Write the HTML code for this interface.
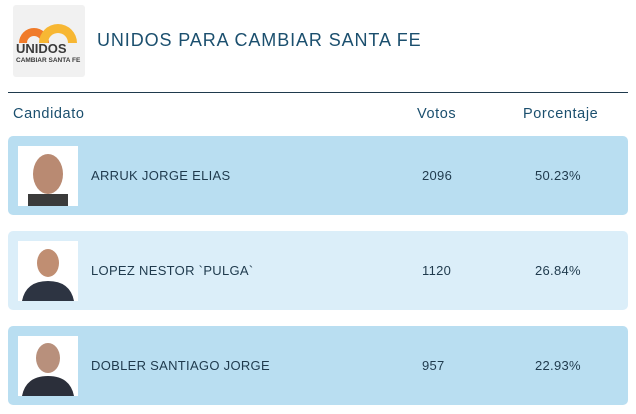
<!DOCTYPE html>
<html><head><style>
body{margin:0;width:636px;height:414px;background:#fff;font-family:"Liberation Sans",sans-serif;position:relative;overflow:hidden}
.a{position:absolute}
.row{position:absolute;left:8px;width:620px;height:79px;border-radius:5px}
.ph{position:absolute;left:10px;top:10px;width:60px;height:60px;background:#fff;overflow:hidden}
.nm{position:absolute;left:83px;top:32px;font-size:13px;color:#1f3a4d;letter-spacing:0.3px}
.v{position:absolute;left:414px;top:32px;font-size:13px;color:#1f3a4d;letter-spacing:0.3px}
.p{position:absolute;left:527px;top:32px;font-size:13px;color:#1f3a4d;letter-spacing:0.3px}
.hd{font-size:14.5px;color:#1b4f6e;top:106px;letter-spacing:0.6px}
</style></head><body>
<div class="a" style="left:13px;top:5px;width:72px;height:72px;background:#f1f1f1;border-radius:3px">
<svg width="72" height="72">
<path d="M6 38 A14 14 0 0 1 36 38 L28 38 A7 7 0 0 0 14 38Z" fill="#f07b2a"/>
<path d="M26 38 A15 15 0 0 1 64 38 L55 38 A8 8 0 0 0 35 38Z" fill="#f7b733"/>
<text x="3" y="48" font-size="13" font-weight="bold" fill="#3a3a3a" font-family="Liberation Sans">UNIDOS</text>
<text x="3" y="57" font-size="6.5" font-weight="bold" fill="#3a3a3a" font-family="Liberation Sans">CAMBIAR SANTA FE</text>
</svg></div>
<div class="a" style="left:97px;top:30px;font-size:18px;color:#1b4f6e;letter-spacing:0.9px">UNIDOS PARA CAMBIAR SANTA FE</div>
<div class="a" style="left:8px;top:92px;width:620px;height:1px;background:#1f3a4d"></div>
<div class="a hd" style="left:13px">Candidato</div>
<div class="a hd" style="left:417px">Votos</div>
<div class="a hd" style="left:523px">Porcentaje</div>

<div class="row" style="top:136px;background:#b9def1"><div class="ph"><svg width="60" height="60"><ellipse cx="30" cy="28" rx="15" ry="20" fill="#b98a72"/><rect x="10" y="48" width="40" height="12" fill="#3b3b3b"/></svg></div>
<div class="nm">ARRUK JORGE ELIAS</div><div class="v">2096</div><div class="p">50.23%</div></div>

<div class="row" style="top:231px;background:#dbeef9"><div class="ph"><svg width="60" height="60"><ellipse cx="30" cy="22" rx="11" ry="14" fill="#c08e72"/><path d="M4 60 Q8 40 30 40 Q52 40 56 60Z" fill="#2d3442"/></svg></div>
<div class="nm">LOPEZ NESTOR `PULGA`</div><div class="v">1120</div><div class="p">26.84%</div></div>

<div class="row" style="top:326px;background:#b9def1"><div class="ph"><svg width="60" height="60"><ellipse cx="30" cy="22" rx="12" ry="15" fill="#b8907c"/><path d="M4 60 Q8 40 30 40 Q52 40 56 60Z" fill="#2b2f3a"/></svg></div>
<div class="nm">DOBLER SANTIAGO JORGE</div><div class="v">957</div><div class="p">22.93%</div></div>
</body></html>
